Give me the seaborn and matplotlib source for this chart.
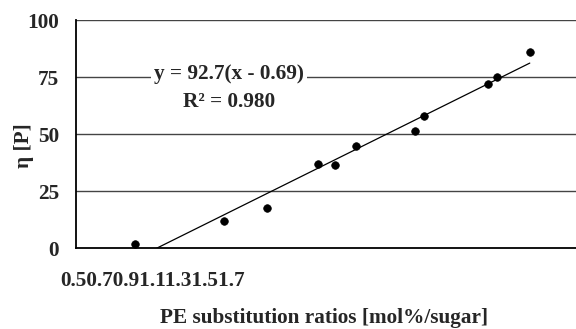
import numpy as np
import pandas as pd
import seaborn as sns
import matplotlib
matplotlib.use('Agg')
import matplotlib.pyplot as plt

# 데이터
pe_ratio = [0.640, 0.849, 0.950, 1.070, 1.109, 1.158, 1.298, 1.319, 1.468, 1.489, 1.567]
viscosity = [1.8, 12.0, 17.7, 36.9, 36.6, 45.0, 51.5, 58.2, 72.1, 75.3, 86.0]
slope = 92.7
x_intercept = 0.69
r_squared = 0.980
xticks = [0.5, 0.7, 0.9, 1.1, 1.3, 1.5, 1.7]
yticks = [0, 25, 50, 75, 100]

df = pd.DataFrame({'x': pe_ratio, 'y': viscosity})

sns.set_style('white')
plt.rcParams['font.family'] = ['Liberation Serif', 'DejaVu Serif']
plt.rcParams['font.weight'] = 'bold'
fs = 15.3

fig = plt.figure(figsize=(5.76, 3.29), dpi=100)
ax = fig.add_axes([0.1314, 0.2453, 0.8866, 0.6924])

# 격자선
for yv in yticks[1:]:
    ax.axhline(yv, color='#444444', lw=1.0, zorder=1)

# 산점도
sns.scatterplot(data=df, x='x', y='y', color='black', s=30, edgecolor='black',
                linewidth=0.5, ax=ax, zorder=3)

# 추세선
fit_x = np.array([x_intercept, max(pe_ratio)])
ax.plot(fit_x, slope * (fit_x - x_intercept), color='black', lw=0.9, zorder=2)

ax.set_xlim(xticks[0], xticks[-1])
ax.set_ylim(yticks[0], yticks[-1])
ax.set_xticks(xticks)
ax.set_xticklabels([])
ax.set_yticks(yticks)
ax.set_yticklabels([str(v) for v in yticks], fontsize=fs, fontweight='bold')
ax.tick_params(axis='x', direction='in', length=5, width=1, color='black')
ax.tick_params(axis='y', length=0, pad=12)

for side in ['top', 'right']:
    ax.spines[side].set_visible(False)
for side in ['left', 'bottom']:
    ax.spines[side].set_color('black')
    ax.spines[side].set_linewidth(1.3)

# 엑셀식으로 붙어버린 x축 눈금 라벨
ax.text(-0.031, -0.1435, ''.join(f'{t:g}' for t in xticks), transform=ax.transAxes,
        ha='left', va='center', fontsize=fs, fontweight='bold')

# 회귀식
ax.text(0.86, 76.5, f'y = {slope}(x - {x_intercept})', ha='center', va='center',
        fontsize=fs, fontweight='bold', zorder=4,
        bbox=dict(facecolor='white', edgecolor='none', pad=2))
ax.text(0.86, 64.4, f'R² = {r_squared:.3f}', ha='center', va='center',
        fontsize=fs, fontweight='bold', zorder=4)

ax.set_xlabel('PE substitution ratios [mol%/sugar]', fontsize=fs, fontweight='bold')
ax.xaxis.set_label_coords(0.486, -0.306)
ax.set_ylabel('η [P]', fontsize=fs, fontweight='bold')
ax.yaxis.set_label_coords(-0.101, 0.449)
ax.xaxis.label.set_va('center')
ax.yaxis.label.set_va('center')

fig.savefig('out.png', dpi=100)
